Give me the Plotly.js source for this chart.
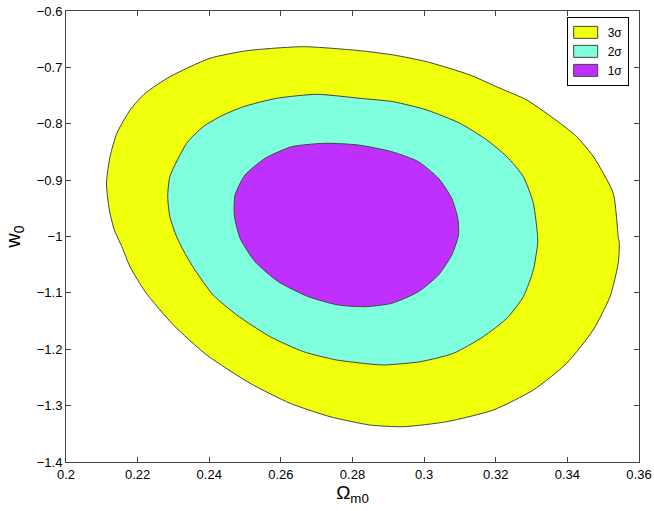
<!DOCTYPE html>
<html>
<head>
<meta charset="utf-8">
<script src="https://cdn.plot.ly/plotly-3.0.1.min.js"></script>
<style>html,body{margin:0;padding:0;background:#fff;}#chart{width:654px;height:511px;}</style>
</head>
<body>
<div id="chart"></div>
<script>
// 3 sigma contour (Omega_m0, w0)
const sig3_x = [0.2663,0.2505,0.2402,0.2290,0.2221,0.2179,0.2142,0.2123,0.2113,0.2121,0.2135,0.2156,0.2179,0.2221,0.2300,0.2393,0.2514,0.2626,0.2737,0.2849,0.2942,0.3063,0.3193,0.3305,0.3398,0.3472,0.3519,0.3542,0.3545,0.3542,0.3528,0.3473,0.3426,0.3380,0.3287,0.3212,0.3128,0.3007,0.2914,0.2821];
const sig3_y = [-0.6633,-0.6704,-0.6839,-0.7165,-0.7460,-0.7756,-0.8169,-0.8584,-0.9056,-0.9530,-0.9885,-1.0181,-1.0536,-1.0979,-1.1570,-1.2102,-1.2604,-1.2959,-1.3196,-1.3344,-1.3374,-1.3285,-1.3078,-1.2723,-1.2249,-1.1659,-1.1068,-1.0475,-1.0121,-1.0004,-0.9234,-0.8585,-0.8230,-0.7992,-0.7579,-0.7371,-0.7135,-0.6899,-0.6780,-0.6704];
// 2 sigma contour
const sig2_x = [0.2700,0.2588,0.2495,0.2439,0.2383,0.2337,0.2290,0.2284,0.2290,0.2309,0.2332,0.2360,0.2411,0.2477,0.2570,0.2663,0.2756,0.2849,0.2886,0.2989,0.3082,0.3165,0.3231,0.3277,0.3305,0.3317,0.3317,0.3305,0.3277,0.3231,0.3175,0.3100,0.3007,0.2914,0.2821];
const sig2_y = [-0.7478,-0.7549,-0.7698,-0.7845,-0.8052,-0.8347,-0.8939,-0.9294,-0.9649,-1.0004,-1.0298,-1.0594,-1.1038,-1.1393,-1.1777,-1.2043,-1.2191,-1.2262,-1.2279,-1.2221,-1.2072,-1.1777,-1.1451,-1.1068,-1.0594,-1.0121,-1.0004,-0.9411,-0.8939,-0.8584,-0.8288,-0.7992,-0.7756,-0.7609,-0.7549];
// 1 sigma contour
const sig1_x = [0.2723,0.2630,0.2556,0.2500,0.2472,0.2470,0.2486,0.2528,0.2593,0.2677,0.2760,0.2835,0.2910,0.2984,0.3040,0.3077,0.3096,0.3094,0.3077,0.3040,0.2984,0.2910,0.2816];
const sig1_y = [-0.8347,-0.8407,-0.8613,-0.8909,-0.9264,-0.9619,-1.0032,-1.0447,-1.0802,-1.1068,-1.1215,-1.1245,-1.1185,-1.0979,-1.0683,-1.0328,-0.9973,-0.9677,-0.9322,-0.8968,-0.8673,-0.8496,-0.8377];

const names = ['3σ','2σ','1σ'];
const colors = ['#F0FF0A','#7FFFDE','#BF30FF'];
const xs = [sig3_x, sig2_x, sig1_x];
const ys = [sig3_y, sig2_y, sig1_y];

const close = a => a.concat([a[0]]);
const traces = xs.map((x,i) => ({
  type:'scatter', mode:'lines', name:names[i],
  x: close(x), y: close(ys[i]),
  fill:'toself', fillcolor:colors[i],
  line:{color:'#444', width:1, shape:'spline', smoothing:0.6}
}));

const axisCommon = {
  showline:true, mirror:'ticks', linecolor:'#444', linewidth:1,
  ticks:'inside', ticklen:5, tickcolor:'#444', showgrid:false, zeroline:false,
  tickfont:{family:'Liberation Sans, Arial, sans-serif', size:13, color:'#000'}
};

const layout = {
  width:654, height:511,
  margin:{l:66, r:15, t:11, b:49},
  paper_bgcolor:'#fff', plot_bgcolor:'#fff',
  font:{family:'Liberation Sans, Arial, sans-serif', color:'#000'},
  xaxis: Object.assign({}, axisCommon, {
    range:[0.2,0.36], tick0:0.2, dtick:0.02,
    title:{text:'Ω<sub>m0</sub>', font:{size:19}, standoff:4}
  }),
  yaxis: Object.assign({}, axisCommon, {
    range:[-1.4,-0.6], tick0:-1.4, dtick:0.1,
    title:{text:'w<sub>0</sub>', font:{size:20}, standoff:10}
  }),
  showlegend:true,
  legend:{x:0.982, y:0.987, xanchor:'right', yanchor:'top', bgcolor:'#fff',
    bordercolor:'#000', borderwidth:1, font:{size:12}, tracegroupgap:0, itemwidth:30},
};

Plotly.newPlot('chart', traces, layout, {displayModeBar:false, staticPlot:true}).then(gd => {
  gd.querySelectorAll('.legend .traces').forEach(t => {
    const f = t.querySelector('.legendfill path');
    if (f) { f.setAttribute('d','M6,-6h24v12h-24z'); f.style.stroke='#444'; f.style.strokeWidth='1px'; }
    t.querySelectorAll('.legendlines path').forEach(p => p.style.display='none');
  });
});
</script>
</body>
</html>
